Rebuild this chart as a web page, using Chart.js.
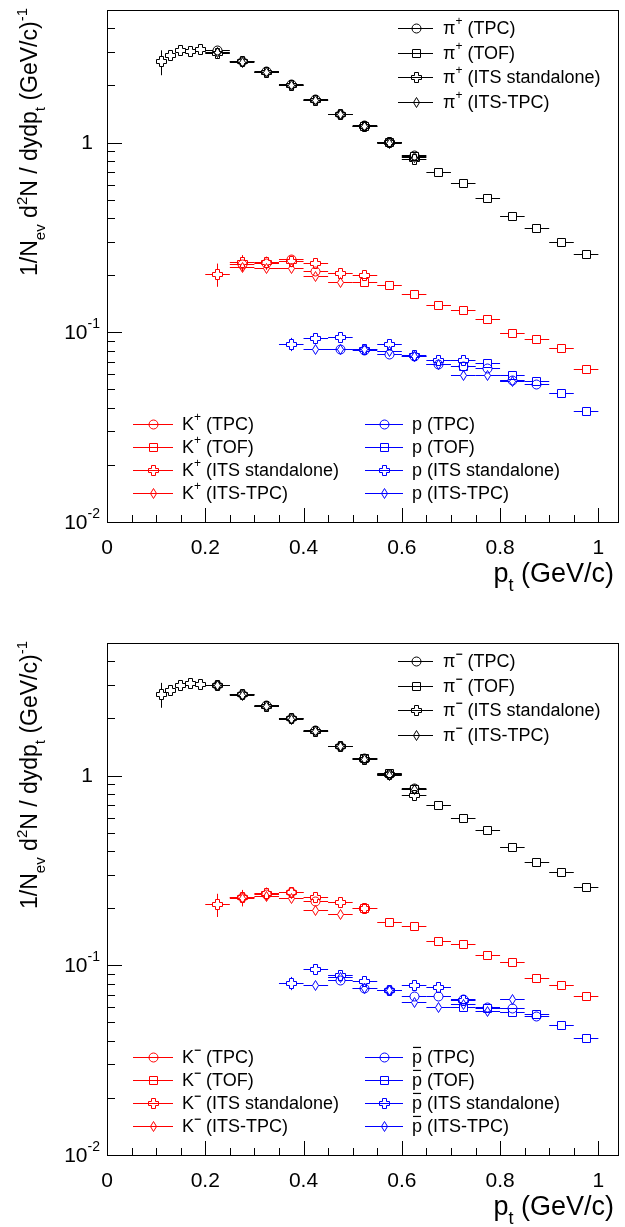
<!DOCTYPE html>
<html>
<head>
<meta charset="utf-8">
<script src="https://cdn.jsdelivr.net/npm/chart.js@4.4.0/dist/chart.umd.min.js"></script>
<style>
  html, body { margin: 0; padding: 0; background: #fff; }
  body { width: 625px; height: 1227px; overflow: hidden; position: relative; }
  .panel { position: absolute; left: 0; width: 625px; height: 613px; }
  #top { top: 0; }
  #bottom { top: 633px; }
</style>
</head>
<body>
<div class="panel" id="top"><canvas id="chartPos" width="625" height="613"></canvas></div>
<div class="panel" id="bottom"><canvas id="chartNeg" width="625" height="613"></canvas></div>
<script>
// axis ticks
const xTicks = [0, 0.2, 0.4, 0.6, 0.8, 1];
const yDecades = [0.01, 0.1, 1];

// pt bin centres (GeV/c) for each detector
const ptPiTPC = [0.225, 0.275, 0.325, 0.375, 0.425, 0.475, 0.525, 0.575, 0.625];
const ptPiTOF = [0.525, 0.575, 0.625, 0.675, 0.725, 0.775, 0.825, 0.875, 0.925, 0.975];
const ptPiITSsa = [0.11, 0.13, 0.15, 0.17, 0.19, 0.225, 0.275, 0.325, 0.375, 0.425, 0.475, 0.525, 0.575, 0.625];
const ptPiITSTPC = [0.225, 0.275, 0.325, 0.375, 0.425, 0.475, 0.525, 0.575, 0.625];
const ptKTPC = [0.275, 0.325, 0.375, 0.425];
const ptKTOF = [0.525, 0.575, 0.625, 0.675, 0.725, 0.775, 0.825, 0.875, 0.925, 0.975];
const ptKITSsa = [0.225, 0.275, 0.325, 0.375, 0.425, 0.475, 0.525];
const ptKITSTPC = [0.275, 0.325, 0.375, 0.425, 0.475];
const ptPTPC = [0.475, 0.525, 0.575, 0.625, 0.675, 0.725, 0.775, 0.825, 0.875];
const ptPTOF = [0.725, 0.775, 0.825, 0.875, 0.925, 0.975];
const ptPITSsa = [0.375, 0.425, 0.475, 0.525, 0.575, 0.625, 0.675, 0.725];
const ptPITSTPC = [0.425, 0.475, 0.525, 0.575, 0.625, 0.675, 0.725, 0.775, 0.825];

// positive particles
const piPosTPC = [3.05, 2.68, 2.36, 2.02, 1.69, 1.41, 1.23, 1.0, 0.855];
const piPosTOF = [1.22, 1.0, 0.845, 0.696, 0.612, 0.506, 0.408, 0.352, 0.298, 0.258];
const piPosITSsa = [2.665, 2.89, 3.07, 3.01, 3.11, 2.96, 2.66, 2.34, 2.0, 1.67, 1.41, 1.22, 1.0, 0.81];
const piPosITSTPC = [2.98, 2.65, 2.33, 2.0, 1.66, 1.4, 1.22, 0.99, 0.83];
const kPosTPC = [0.228, 0.231, 0.242, 0.21];
const kPosTOF = [0.183, 0.177, 0.158, 0.138, 0.1305, 0.117, 0.0985, 0.092, 0.0817, 0.064];
const kPosITSsa = [0.202, 0.232, 0.232, 0.237, 0.23, 0.203, 0.199];
const kPosITSTPC = [0.22, 0.217, 0.217, 0.198, 0.1825];
const pPosTPC = [0.0814, 0.0802, 0.076, 0.0741, 0.0673, 0.0664, 0.0647, 0.0555, 0.0533];
const pPosTOF = [0.0664, 0.0685, 0.059, 0.0551, 0.0478, 0.0381];
const pPosITSsa = [0.0865, 0.093, 0.0944, 0.0814, 0.0865, 0.075, 0.0713, 0.071];
const pPosITSTPC = [0.0814, 0.0815, 0.081, 0.079, 0.0741, 0.0673, 0.059, 0.059, 0.0553];

// negative particles
const piNegTPC = [3.0, 2.68, 2.33, 2.0, 1.72, 1.43, 1.23, 1.017, 0.859];
const piNegTOF = [1.23, 1.02, 0.84, 0.693, 0.597, 0.514, 0.417, 0.3465, 0.307, 0.258];
const piNegITSsa = [2.68, 2.8, 3.0, 3.06, 3.02, 2.98, 2.66, 2.32, 1.99, 1.71, 1.42, 1.22, 1.01, 0.785];
const piNegITSTPC = [2.97, 2.65, 2.32, 1.98, 1.7, 1.42, 1.22, 1.0, 0.84];
const kNegTPC = [0.227, 0.236, 0.241, 0.218];
const kNegTOF = [0.1985, 0.1677, 0.161, 0.133, 0.129, 0.1133, 0.1033, 0.085, 0.0779, 0.0687];
const kNegITSsa = [0.209, 0.227, 0.238, 0.241, 0.2286, 0.215, 0.1985];
const kNegITSTPC = [0.225, 0.2316, 0.225, 0.195, 0.1855];
const pNegTPC = [0.0827, 0.0757, 0.0733, 0.0682, 0.0682, 0.0663, 0.06, 0.0594, 0.0538];
const pNegTOF = [0.06, 0.0594, 0.0564, 0.0548, 0.0484, 0.0413];
const pNegITSsa = [0.0804, 0.0953, 0.0879, 0.082, 0.074, 0.0779, 0.0763, 0.0649];
const pNegITSTPC = [0.0786, 0.0862, 0.0755, 0.0733, 0.0637, 0.06, 0.0624, 0.0571, 0.0657];

// relative stat. errors of the ITS standalone points
const relErrPiITSsa = [0.15, 0.05, 0.04, 0.04, 0.04, 0.03, 0.03, 0.03, 0.03, 0.03, 0.03, 0.03, 0.03, 0.03];
const relErrKITSsa = [0.14, 0.1, 0.08, 0.07, 0.05, 0.05, 0.04];
const relErrPITSsa = [0.08, 0.06, 0.05, 0.04, 0.04, 0.04, 0.04, 0.04];

const methods = ['TPC', 'TOF', 'ITS standalone', 'ITS-TPC'];
const shapes = ['circle', 'square', 'cross', 'diamond'];

const FONT = '"Liberation Sans", Arial, Helvetica, sans-serif';
const BLACK = '#000000', RED = '#ff0000', BLUE = '#0000ff';

// marker images (ROOT open markers)
const markerCache = {};
function marker(shape, color) {
  const key = shape + color;
  if (markerCache[key]) return markerCache[key];
  const c = document.createElement('canvas');
  c.width = 13; c.height = 13;
  const g = c.getContext('2d');
  const m = 6.5;
  g.strokeStyle = color;
  g.lineWidth = 1;
  g.beginPath();
  if (shape === 'circle') {
    g.arc(m, m, 4.5, 0, Math.PI * 2);
  } else if (shape === 'square') {
    g.rect(m - 4, m - 4, 8, 8);
  } else if (shape === 'cross') {
    const R = 5, a = 2;
    const pts = [[-a, -R], [a, -R], [a, -a], [R, -a], [R, a], [a, a], [a, R], [-a, R], [-a, a], [-R, a], [-R, -a], [-a, -a]];
    pts.forEach((p, i) => i ? g.lineTo(m + p[0], m + p[1]) : g.moveTo(m + p[0], m + p[1]));
    g.closePath();
  } else {
    g.moveTo(m, m - 5); g.lineTo(m + 3, m); g.lineTo(m, m + 5); g.lineTo(m - 3, m);
    g.closePath();
  }
  g.stroke();
  markerCache[key] = c;
  return c;
}
const gaps = { circle: [4.5, 4.5], square: [4, 4], cross: [5, 5], diamond: [3, 5] };

function series(xs, ys, shape, color, relErr) {
  return {
    data: xs.map((x, i) => ({ x: x, y: ys[i], ex: x < 0.2 ? 0.01 : 0.025, ey: relErr ? relErr[i] * ys[i] : 0 })),
    pointStyle: marker(shape, color),
    pointRadius: 5,
    borderColor: color,
    backgroundColor: color,
    showLine: false,
    gap: gaps[shape]
  };
}

// rich text: parts like {t, sup}, {t, sub}, {t, bar}
function partFont(p, size) {
  return (p.bold ? 'bold ' : '') + (p.sup || p.sub ? Math.round(size * 0.66) : size) + 'px ' + FONT;
}
function measureParts(ctx, parts, size) {
  let w = 0;
  parts.forEach(p => { ctx.font = partFont(p, size); w += ctx.measureText(p.t).width; });
  return w;
}
function drawParts(ctx, parts, x, y, size) {
  parts.forEach(p => {
    ctx.font = partFont(p, size);
    let yy = y;
    if (p.sup) yy = y - size * 0.42;
    if (p.sub) yy = y + size * 0.34;
    ctx.fillText(p.t, x, yy);
    const w = ctx.measureText(p.t).width;
    if (p.bar) {
      ctx.fillRect(x + 1, y - size * 0.62, w - 2, 1.2);
    }
    x += w;
  });
}

// pixel snapping that matches the nearest-neighbour marker images
const snap = v => Math.floor(v) + 0.5;

const errorBars = {
  id: 'errorBars',
  beforeDatasetsDraw(chart) {
    const ctx = chart.ctx, xs = chart.scales.x, ys = chart.scales.y;
    ctx.save();
    ctx.lineWidth = 1;
    chart.data.datasets.forEach(ds => {
      ctx.strokeStyle = ds.borderColor;
      ctx.beginPath();
      ds.data.forEach(p => {
        const cx = snap(xs.getPixelForValue(p.x)), cy = snap(ys.getPixelForValue(p.y));
        const xl = xs.getPixelForValue(p.x - p.ex), xr = xs.getPixelForValue(p.x + p.ex);
        const gx = ds.gap[0], gy = ds.gap[1];
        if (cx - xl > gx) {
          ctx.moveTo(xl, cy); ctx.lineTo(cx - gx, cy);
          ctx.moveTo(cx + gx, cy); ctx.lineTo(xr, cy);
        }
        if (p.ey) {
          const yt = ys.getPixelForValue(p.y + p.ey), yb = ys.getPixelForValue(p.y - p.ey);
          if (cy - yt > gy) { ctx.moveTo(cx, yt); ctx.lineTo(cx, cy - gy); }
          if (yb - cy > gy) { ctx.moveTo(cx, cy + gy); ctx.lineTo(cx, yb); }
        }
      });
      ctx.stroke();
    });
    ctx.restore();
    // crisp open markers
    ctx.imageSmoothingEnabled = false;
  },
  afterDatasetsDraw(chart) {
    chart.ctx.imageSmoothingEnabled = true;
  }
};

// frame, inside ticks, y labels and axis titles in ROOT style
const rootFrame = {
  id: 'rootFrame',
  afterDraw(chart) {
    const ctx = chart.ctx, a = chart.chartArea, xs = chart.scales.x, ys = chart.scales.y;
    ctx.save();
    ctx.strokeStyle = '#000';
    ctx.lineWidth = 1;
    ctx.beginPath();
    // x ticks
    for (let v = 0; v <= xs.max + 1e-9; v += 0.05) {
      const major = Math.abs(v / 0.2 - Math.round(v / 0.2)) < 1e-6;
      const px = Math.round(xs.getPixelForValue(v)) + 0.5;
      ctx.moveTo(px, a.bottom); ctx.lineTo(px, a.bottom - (major ? 14 : 7));
    }
    // y ticks
    yDecades.forEach(d => {
      for (let k = 1; k <= 9; k++) {
        const v = d * k;
        if (v > ys.max) break;
        const py = Math.round(ys.getPixelForValue(v)) + 0.5;
        ctx.moveTo(a.left, py); ctx.lineTo(a.left + (k === 1 ? 15 : 8), py);
      }
    });
    ctx.stroke();
    ctx.strokeRect(Math.round(a.left) + 0.5, Math.round(a.top) + 0.5, Math.round(a.right - a.left), Math.round(a.bottom - a.top));

    ctx.fillStyle = '#000';
    ctx.textBaseline = 'middle';
    ctx.textAlign = 'left';
    // y tick labels
    yDecades.forEach(d => {
      const py = ys.getPixelForValue(d);
      const exp = Math.round(Math.log10(d));
      const parts = exp === 0 ? [{ t: '1' }] : [{ t: '10' }, { t: String(exp), sup: true }];
      const w = measureParts(ctx, parts, 21);
      const right = exp === 0 ? a.left - 14 : a.left - 7;
      drawParts(ctx, parts, right - w, py + 1, 21);
    });

    ctx.textBaseline = 'alphabetic';
    // x title
    const xt = [{ t: 'p' }, { t: 't', sub: true }, { t: ' (GeV/c)' }];
    const xw = measureParts(ctx, xt, 27);
    drawParts(ctx, xt, a.right - 4 - xw, a.bottom + 60, 27);
    // y title, rotated
    const yt = [{ t: '1/N' }, { t: 'ev', sub: true }, { t: ' d' }, { t: '2', sup: true }, { t: 'N / dydp' }, { t: 't', sub: true }, { t: ' (GeV/c)' }, { t: '-1', sup: true }];
    const yw = measureParts(ctx, yt, 23);
    ctx.translate(37, a.top - 2 + yw);
    ctx.rotate(-Math.PI / 2);
    drawParts(ctx, yt, 0, 0, 23);
    ctx.restore();
  }
};

const rootLegend = {
  id: 'rootLegend',
  afterDraw(chart, args, opts) {
    const ctx = chart.ctx;
    ctx.save();
    ctx.textBaseline = 'middle';
    ctx.lineWidth = 1;
    (opts.groups || []).forEach(gr => {
      methods.forEach((m, i) => {
        const y = Math.round(gr.y + i * gr.dy);
        ctx.strokeStyle = gr.color;
        ctx.beginPath();
        ctx.moveTo(gr.x0, y + 0.5); ctx.lineTo(gr.x1, y + 0.5);
        ctx.stroke();
        const mk = marker(shapes[i], gr.color);
        ctx.drawImage(mk, Math.round((gr.x0 + gr.x1) / 2) - 6, y - 6);
        ctx.fillStyle = '#000';
        drawParts(ctx, gr.prefix.concat([{ t: ' (' + m + ')' }]), gr.tx, y + 1, 18);
      });
    });
    ctx.restore();
  }
};

function makeChart(id, datasets, groups) {
  return new Chart(document.getElementById(id), {
    type: 'scatter',
    data: { datasets: datasets },
    options: {
      responsive: false,
      animation: false,
      layout: { padding: { top: 10, right: 7, left: 0, bottom: 0 } },
      plugins: {
        legend: { display: false },
        tooltip: { enabled: false },
        rootLegend: { groups: groups }
      },
      scales: {
        x: {
          type: 'linear', min: 0, max: 1.04,
          afterFit: s => { s.height = 91; },
          afterBuildTicks: s => { s.ticks = xTicks.map(v => ({ value: v })); },
          grid: { display: false, drawTicks: false },
          border: { display: false },
          ticks: { autoSkip: false, maxRotation: 0, padding: 14, color: '#000', font: { family: FONT, size: 21 }, callback: v => String(v) }
        },
        y: {
          type: 'logarithmic', min: 0.01, max: 5,
          afterFit: s => { s.width = 107; },
          grid: { display: false, drawTicks: false },
          border: { display: false },
          ticks: { display: false }
        }
      }
    },
    plugins: [errorBars, rootFrame, rootLegend]
  });
}

function panelSets(pi, k, p) {
  return [
    series(ptPiTPC, pi[0], 'circle', BLACK),
    series(ptPiTOF, pi[1], 'square', BLACK),
    series(ptPiITSsa, pi[2], 'cross', BLACK, relErrPiITSsa),
    series(ptPiITSTPC, pi[3], 'diamond', BLACK),
    series(ptKTPC, k[0], 'circle', RED),
    series(ptKTOF, k[1], 'square', RED),
    series(ptKITSsa, k[2], 'cross', RED, relErrKITSsa),
    series(ptKITSTPC, k[3], 'diamond', RED),
    series(ptPTPC, p[0], 'circle', BLUE),
    series(ptPTOF, p[1], 'square', BLUE),
    series(ptPITSsa, p[2], 'cross', BLUE, relErrPITSsa),
    series(ptPITSTPC, p[3], 'diamond', BLUE)
  ];
}

function legendGroups(sign, pBar) {
  const sup = { t: sign, sup: true, bold: !pBar ? false : true };
  return [
    { x0: 398, x1: 433, tx: 443, y: 28, dy: 24.5, color: BLACK, prefix: [{ t: 'π' }, sup] },
    { x0: 133, x1: 173, tx: 182, y: 424, dy: 23, color: RED, prefix: [{ t: 'K' }, sup] },
    { x0: 365, x1: 403, tx: 412, y: 424, dy: 23, color: BLUE, prefix: [{ t: 'p', bar: pBar }] }
  ];
}

makeChart('chartPos',
  panelSets([piPosTPC, piPosTOF, piPosITSsa, piPosITSTPC], [kPosTPC, kPosTOF, kPosITSsa, kPosITSTPC], [pPosTPC, pPosTOF, pPosITSsa, pPosITSTPC]),
  legendGroups('+', false));
makeChart('chartNeg',
  panelSets([piNegTPC, piNegTOF, piNegITSsa, piNegITSTPC], [kNegTPC, kNegTOF, kNegITSsa, kNegITSTPC], [pNegTPC, pNegTOF, pNegITSsa, pNegITSTPC]),
  legendGroups('\u2212', true));
</script>
</body>
</html>
